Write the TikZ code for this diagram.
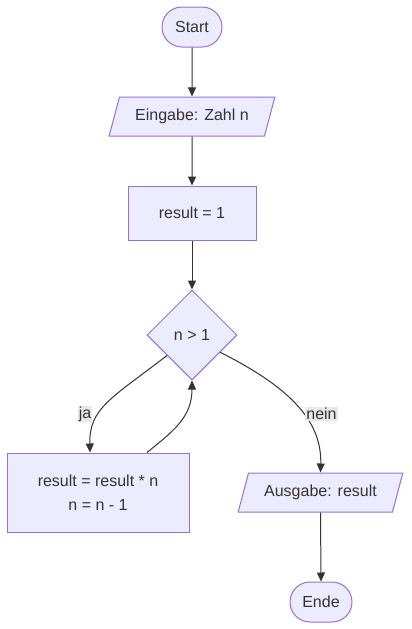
\documentclass[tikz,border=0pt]{standalone}
\usepackage{fontspec}
\setmainfont{Liberation Sans}
\usetikzlibrary{shapes.geometric,arrows.meta,calc}
\definecolor{nodefill}{HTML}{ECECFF}
\definecolor{nodestroke}{HTML}{9370DB}
\definecolor{txt}{HTML}{333333}
\definecolor{lblbg}{HTML}{E8E8E8}
\tikzset{
  base/.style={draw=nodestroke, fill=nodefill, line width=1pt, text=txt, inner sep=2pt,
    font=\fontsize{16pt}{24pt}\selectfont},
  term/.style={base, rectangle, rounded corners=20pt, minimum height=40pt},
  io/.style={base, trapezium, trapezium left angle=66, trapezium right angle=114,
    trapezium stretches=true, minimum height=39pt},
  proc/.style={base, rectangle, align=center},
  decision/.style={base, diamond, minimum width=90pt, minimum height=90pt, aspect=1, inner sep=0pt},
  edge/.style={draw=txt, line width=1pt, -{Triangle[length=9pt,width=8pt]}},
  elabel/.style={fill=lblbg, text=txt, inner sep=1pt, font=\fontsize{16pt}{19pt}\selectfont}
}
\begin{document}
\begin{tikzpicture}[x=1pt,y=-1pt]
\useasboundingbox (0,0) rectangle (412,629);
\node[term, minimum width=60pt] (start) at (192,27) {Start};
\node[io, minimum width=166pt] (in) at (192,116.5) {Eingabe: Zahl n};
\node[proc, minimum width=128pt, minimum height=54pt] (init) at (192,213) {result = 1};
\node[decision] (dec) at (192,335) {n > 1};
\node[proc, minimum width=182pt, minimum height=79pt] (loop) at (98,492.5) {result = result * n\\n = n - 1};
\node[io, minimum width=165pt] (out) at (320.5,492.5) {Ausgabe: result};
\node[term, minimum width=62pt] (end) at (321,602) {Ende};

\draw[edge] (start.south) -- (in.north);
\draw[edge] (in.south) -- (init.north);
\draw[edge] (init.south) -- (dec.north);

\coordinate (jaS) at ($(dec.west)!0.45!(dec.south)$);
\coordinate (neinS) at ($(dec.east)!0.38!(dec.south)$);
\coordinate (loopT) at ($(loop.north)+(-8,0)$);
\coordinate (backS) at ($(loop.north)+(49,0)$);

\draw[edge] (jaS) .. controls (112,398) and (89,408) .. (loopT);
\draw[edge] (backS) .. controls (172,432) and (192,418) .. (dec.south);
\draw[edge] (neinS) .. controls (285,385) and (322,418) .. (out.north);
\draw[edge] (out.south) -- (end.north);

\node[elabel] (ja) at (85,414) {ja};
\node[elabel] (nein) at (321.5,414) {nein};
\end{tikzpicture}
\end{document}
